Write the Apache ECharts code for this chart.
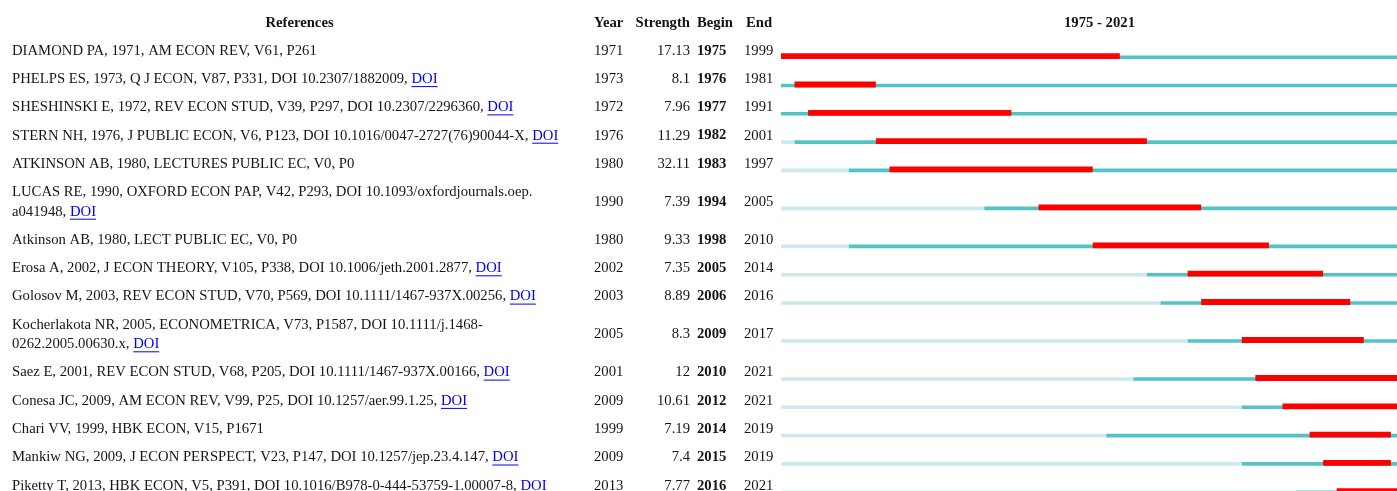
<!DOCTYPE html>
<html><head><meta charset="utf-8">
<script src="https://cdn.jsdelivr.net/npm/echarts@6/dist/echarts.min.js"></script>
<style>html,body{margin:0;padding:0;background:#fff}#c{width:1397px;height:491px}</style>
</head><body><div id="c"></div>
<script>
// ---- data ----
const references = [
  "DIAMOND PA, 1971, AM ECON REV, V61, P261",
  "PHELPS ES, 1973, Q J ECON, V87, P331, DOI 10.2307/1882009",
  "SHESHINSKI E, 1972, REV ECON STUD, V39, P297, DOI 10.2307/2296360",
  "STERN NH, 1976, J PUBLIC ECON, V6, P123, DOI 10.1016/0047-2727(76)90044-X",
  "ATKINSON AB, 1980, LECTURES PUBLIC EC, V0, P0",
  "LUCAS RE, 1990, OXFORD ECON PAP, V42, P293, DOI 10.1093/oxfordjournals.oep.\na041948",
  "Atkinson AB, 1980, LECT PUBLIC EC, V0, P0",
  "Erosa A, 2002, J ECON THEORY, V105, P338, DOI 10.1006/jeth.2001.2877",
  "Golosov M, 2003, REV ECON STUD, V70, P569, DOI 10.1111/1467-937X.00256",
  "Kocherlakota NR, 2005, ECONOMETRICA, V73, P1587, DOI 10.1111/j.1468-\n0262.2005.00630.x",
  "Saez E, 2001, REV ECON STUD, V68, P205, DOI 10.1111/1467-937X.00166",
  "Conesa JC, 2009, AM ECON REV, V99, P25, DOI 10.1257/aer.99.1.25",
  "Chari VV, 1999, HBK ECON, V15, P1671",
  "Mankiw NG, 2009, J ECON PERSPECT, V23, P147, DOI 10.1257/jep.23.4.147",
  "Piketty T, 2013, HBK ECON, V5, P391, DOI 10.1016/B978-0-444-53759-1.00007-8"
];
const hasDoiLink = [false, true, true, true, false, true, false, true, true, true, true, true, false, true, true];
const pubYears   = [1971, 1973, 1972, 1976, 1980, 1990, 1980, 2002, 2003, 2005, 2001, 2009, 1999, 2009, 2013];
const strengths  = [17.13, 8.1, 7.96, 11.29, 32.11, 7.39, 9.33, 7.35, 8.89, 8.3, 12, 10.61, 7.19, 7.4, 7.77];
const burstBegin = [1975, 1976, 1977, 1982, 1983, 1994, 1998, 2005, 2006, 2009, 2010, 2012, 2014, 2015, 2016];
const burstEnd   = [1999, 1981, 1991, 2001, 1997, 2005, 2010, 2014, 2016, 2017, 2021, 2021, 2019, 2019, 2021];
const headers = ["References", "Year", "Strength", "Begin", "End"];
const firstYear = 1975, lastYear = 2021;

// ---- layout ----
const FONT = '"Liberation Serif", "Times New Roman", serif';
const FS = 14.7;
const TEXT = '#151515';
const LINK = '#0000ee';
const RED = '#ff0000', TEAL = '#52c4c6', PALE = '#cde9eb';
const ROW_H = 28.3, LINE_H = 19.4, TEXT_DY = 0.8;
const gridLeft = 781, timelineWidth = 637, canvasW = 1397;
const yearW = timelineWidth / (lastYear - firstYear + 1);
const visibleMax = firstYear + (canvasW - gridLeft) / yearW;

const lineCounts = references.map(r => r.split('\n').length);
const centers = [];
let acc = 35.85;
lineCounts.forEach(n => { const h = ROW_H + (n - 1) * LINE_H; centers.push(acc + h / 2); acc += h; });

const mctx = document.createElement('canvas').getContext('2d');
mctx.font = FS + 'px ' + FONT;
const measure = s => mctx.measureText(s).width;

function renderItem(params, api) {
  const i = api.value(0);
  const c = api.value(1);
  const yc = api.coord([firstYear, c])[1];
  const ty = yc + TEXT_DY;
  const xs = y => api.coord([y, c])[0];
  const ch = [];
  const font = FS + 'px ' + FONT;
  const bold = 'bold ' + FS + 'px ' + FONT;
  const lines = references[i].split('\n');
  const txt = references[i] + (hasDoiLink[i] ? ', ' : '');
  ch.push({ type: 'text', style: { x: 12, y: ty, text: txt, font: font, fill: TEXT, verticalAlign: 'middle', lineHeight: LINE_H } });
  if (hasDoiLink[i]) {
    const last = lines[lines.length - 1] + ', ';
    const dx = 12 + measure(last);
    const dy = ty + (lines.length - 1) * LINE_H / 2;
    const w = measure('DOI');
    ch.push({ type: 'text', style: { x: dx, y: dy, text: 'DOI', font: font, fill: LINK, verticalAlign: 'middle' } });
    ch.push({ type: 'line', shape: { x1: dx, y1: dy + 7.5, x2: dx + w, y2: dy + 7.5 }, style: { stroke: LINK, lineWidth: 1 } });
  }
  ch.push({ type: 'text', style: { x: 594, y: ty, text: String(pubYears[i]), font: font, fill: TEXT, verticalAlign: 'middle' } });
  ch.push({ type: 'text', style: { x: 690, y: ty, text: String(strengths[i]), font: font, fill: TEXT, verticalAlign: 'middle', align: 'right' } });
  ch.push({ type: 'text', style: { x: 697, y: ty, text: String(burstBegin[i]), font: bold, fill: TEXT, verticalAlign: 'middle' } });
  ch.push({ type: 'text', style: { x: 744, y: ty, text: String(burstEnd[i]), font: font, fill: TEXT, verticalAlign: 'middle' } });
  // bars
  const pub = Math.max(pubYears[i], firstYear);
  if (pubYears[i] > firstYear) {
    ch.push({ type: 'rect', shape: { x: xs(firstYear), y: yc + 5.4, width: xs(pub) - xs(firstYear), height: 3.6 }, style: { fill: PALE } });
  }
  ch.push({ type: 'rect', shape: { x: xs(pub), y: yc + 5.4, width: xs(lastYear + 1) - xs(pub), height: 3.6 }, style: { fill: TEAL } });
  ch.push({ type: 'rect', shape: { x: xs(burstBegin[i]), y: yc + 3.3, width: xs(burstEnd[i] + 1) - xs(burstBegin[i]), height: 5.8 }, style: { fill: RED } });
  return { type: 'group', children: ch };
}

const chart = echarts.init(document.getElementById('c'));
const hdr = (x, text, align) => ({ type: 'text', x: x, y: 22 + TEXT_DY,
  style: { text: text, font: 'bold ' + FS + 'px ' + FONT, fill: TEXT, align: align, verticalAlign: 'middle' } });
chart.setOption({
  animation: false,
  grid: { left: gridLeft, top: 0, right: 0, height: 491 },
  xAxis: { type: 'value', min: firstYear, max: visibleMax, show: false },
  yAxis: { type: 'value', min: 0, max: 491, inverse: true, show: false },
  graphic: [
    hdr(299.5, headers[0], 'center'),
    hdr(594, headers[1], 'left'),
    hdr(690, headers[2], 'right'),
    hdr(697, headers[3], 'left'),
    hdr(746, headers[4], 'left'),
    hdr(gridLeft + timelineWidth / 2, firstYear + ' - ' + lastYear, 'center')
  ],
  series: [{
    type: 'custom',
    renderItem: renderItem,
    clip: false,
    data: references.map((_, i) => [i, centers[i]])
  }]
});
</script>
</body></html>
